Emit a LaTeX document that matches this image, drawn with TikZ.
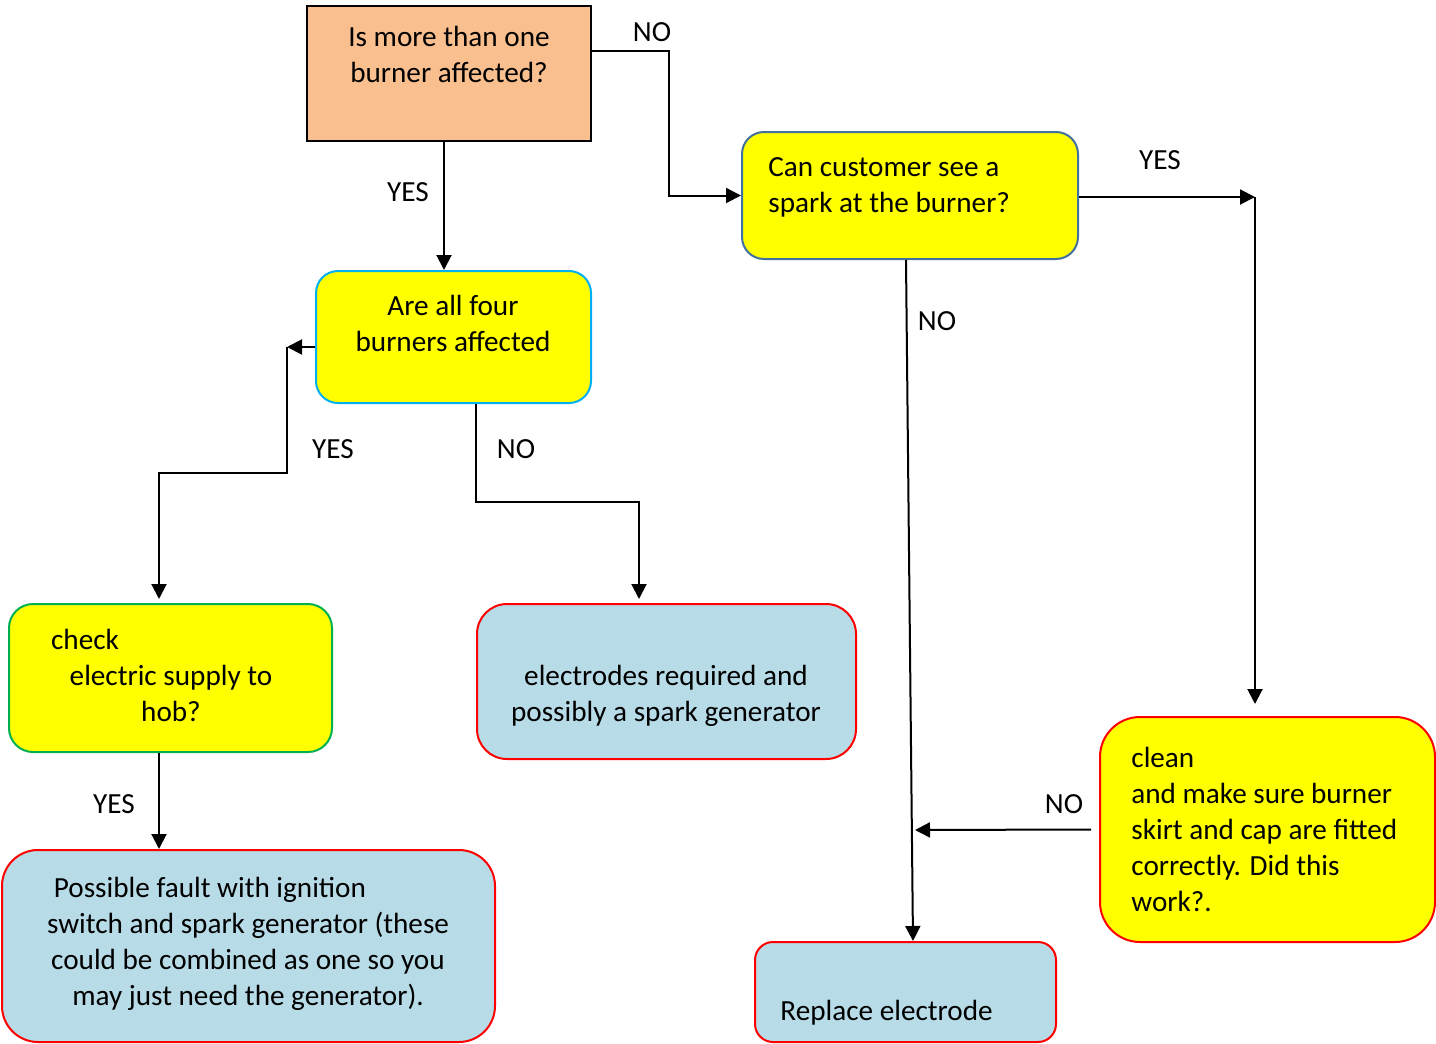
\documentclass[tikz,border=0pt]{standalone}
\usepackage{fontspec}
\setmainfont{Carlito}
\usetikzlibrary{arrows.meta}
\definecolor{ocol}{HTML}{F9BF8F}
\definecolor{ycol}{HTML}{FFFF00}
\definecolor{bcol}{HTML}{B7DCE8}
\definecolor{rcol}{HTML}{FF0000}
\definecolor{ccol}{HTML}{00B0F0}
\definecolor{scol}{HTML}{41719C}
\definecolor{gcol}{HTML}{00B050}

\begin{document}
\begin{tikzpicture}[x=0.5pt,y=-0.5pt,>={Triangle[length=7.5pt,width=7.5pt]},
  box/.style={draw,line width=1pt,inner sep=0pt},
  qbox/.style={box,fill=ycol,rounded corners=#1},
  abox/.style={box,fill=bcol,draw=rcol,rounded corners=#1},
  txt/.style={font=\fontsize{14.6}{18}\selectfont,inner sep=0pt},
  lbl/.style={font=\fontsize{14.6}{18}\selectfont,inner sep=0pt},
  link/.style={line width=1pt}]
\useasboundingbox (0,0) rectangle (1436,1044);
\node[box,fill=ocol,minimum width=142pt,minimum height=67.5pt] (q1) at (449,73.5) {};
\node[qbox=11pt,draw=ccol,minimum width=137.5pt,minimum height=66pt] (q2) at (453.5,337) {};
\node[qbox=11pt,draw=scol,minimum width=168pt,minimum height=63.5pt] (q3) at (910,195.5) {};
\node[qbox=12pt,draw=gcol,minimum width=161.5pt,minimum height=74pt] (q4) at (170.5,678) {};
\node[abox=15pt,minimum width=189.5pt,minimum height=77.5pt] (r5) at (666.5,681.5) {};
\node[abox=18pt,minimum width=246.5pt,minimum height=96pt] (r6) at (248.5,946) {};
\node[abox=9pt,minimum width=150.5pt,minimum height=50pt] (r7) at (905.5,992) {};
\node[qbox=20pt,draw=rcol,minimum width=167.5pt,minimum height=112.5pt] (q8) at (1267.5,829.5) {};
\node[txt,align=center] (t1) at (449,54) {Is more than one\\burner affected?};
\node[txt,align=center] (t2) at (453,323.5) {Are all four\\burners affected};
\node[txt,align=left,anchor=west] (t3) at (768,187) {Can customer see a\\spark at the burner?};
\node[txt,align=center] (t4) at (171,675.5) {check\hspace*{86pt}\\electric supply to\\hob?};
\node[txt,align=center] (t5) at (666,695.5) {electrodes required and\\possibly a spark generator};
\node[txt,align=center] (t6) at (248,944) {Possible fault with ignition\hspace*{38pt}\\switch and spark generator (these\\could be combined as one so you\\may just need the generator).};
\node[txt,anchor=west] (t7) at (780,1013) {Replace electrode};
\node[txt,align=left,anchor=west] (t8) at (1131,829) {clean\\and make sure burner\\skirt and cap are fitted\\correctly. Did this\\work?.};
\node[lbl] (l1) at (652,32) {NO};
\node[lbl] (l2) at (408,192) {YES};
\node[lbl] (l3) at (333,449) {YES};
\node[lbl] (l4) at (516,449) {NO};
\node[lbl] (l5) at (1160,160) {YES};
\node[lbl] (l6) at (937,321) {NO};
\node[lbl] (l7) at (1064,804) {NO};
\node[lbl] (l8) at (114,804) {YES};
\coordinate (k) at (287,347);
\coordinate (j) at (1255,197);
\coordinate (m) at (915,830);
\draw[link,->] (q1.east |- 0,51) -- (669,51) |- (q3.west);
\draw[link,->] (q1.south -| 444,0) -- (q2.north -| 444,0);
\draw[link,->] (q2.west |- 0,347) -- (k);
\draw[link,->,shorten >=2pt] (k) |- (159,473) -- (q4.north -| 159,0);
\draw[link,->,shorten >=2pt] (q2.south -| 476,0) |- (639,502) -- (r5.north -| 639,0);
\draw[link,->] (q3.east |- 0,197) -- (j);
\draw[link,->,shorten >=6pt] (j) -- (q8.north -| j);
\draw[link,->] (q3.south -| 906,0) -- (r7.north -| 913,0);
\draw[link,->] ([xshift=-4pt]q8.west) -- (m);
\draw[link,->] (q4.south -| 159,0) -- (r6.north -| 159,0);
\end{tikzpicture}
\end{document}
